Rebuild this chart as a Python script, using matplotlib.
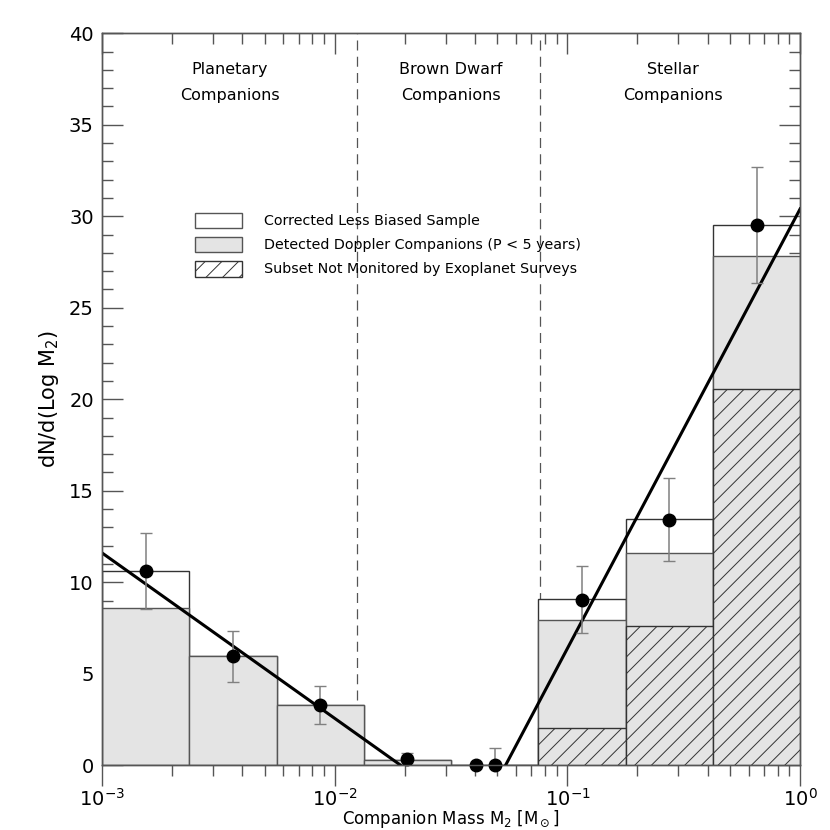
import numpy as np
import matplotlib
matplotlib.use('Agg')
import matplotlib.pyplot as plt
from matplotlib.patches import Patch

plt.rcParams['font.family'] = ['DejaVu Sans']
plt.rcParams['hatch.linewidth'] = 0.7
plt.rcParams['hatch.color'] = '#444444'

# bin edges (log10 M2), 0.375 dex wide
log_edges = [-3.0, -2.625, -2.25, -1.875, -1.5, -1.125, -0.75, -0.375, 0.0]

# histogram heights
corrected = [10.6, 5.95, 3.3, 0.3, 0.0, 9.1, 13.43, 29.5]
detected = [8.6, 5.95, 3.3, 0.3, 0.0, 7.95, 11.62, 27.8]
not_monitored = [0.0, 0.0, 0.0, 0.0, 0.0, 2.02, 7.62, 20.55]

# points with error bars
pt_mass = [1.54e-3, 3.65e-3, 8.66e-3, 0.0205, 0.0406, 0.0487, 0.1155, 0.274, 0.65]
pt_val = [10.6, 5.95, 3.3, 0.33, 0.0, 0.0, 9.05, 13.4, 29.5]
err_lo = [2.05, 1.4, 1.05, 0.3, 0.0, 0.0, 1.8, 2.25, 3.15]
err_hi = [2.1, 1.4, 1.05, 0.32, 0.0, 0.95, 1.85, 2.3, 3.2]

# fitted power laws (endpoints)
fit1_mass = [1e-3, 0.0192]
fit1_val = [11.6, 0.0]
fit2_mass = [0.0542, 1.0]
fit2_val = [0.0, 30.4]

# boundaries between regimes
bounds = [0.0124, 0.0764]

edges = 10 ** np.array(log_edges)
left = edges[:-1]
width = edges[1:] - edges[:-1]

fig = plt.figure(figsize=(8.3, 8.3), dpi=100)
ax = fig.add_axes([0.123, 0.078, 0.841, 0.882])

for b in bounds:
    ax.axvline(b, color='#555555', lw=0.9, ls=(0, (8, 5)), zorder=0)

ax.bar(left, corrected, width=width, align='edge', facecolor='white',
       edgecolor='#333333', lw=1.0, zorder=1)
ax.bar(left, detected, width=width, align='edge', facecolor='#e4e4e4',
       edgecolor='#555555', lw=1.0, zorder=2)
ax.bar(left[5:], not_monitored[5:], width=width[5:], align='edge', facecolor='#e4e4e4',
       edgecolor='#333333', lw=1.0, hatch='//', zorder=3)

ax.plot(fit1_mass, fit1_val, color='black', lw=2.2, zorder=5)
ax.plot(fit2_mass, fit2_val, color='black', lw=2.2, zorder=5)

ax.errorbar(pt_mass, pt_val, yerr=[err_lo, err_hi], fmt='none', ecolor='#808080',
            elinewidth=1.1, capsize=4, capthick=1.0, zorder=6)
ax.plot(pt_mass, pt_val, 'o', color='black', ms=9, zorder=7, clip_on=False)

ax.set_xscale('log')
ax.set_xlim(1e-3, 1.0)
ax.set_ylim(0, 40)
ax.set_yticks(np.arange(0, 41, 5))
ax.set_yticks(np.arange(0, 41, 1), minor=True)

# bottom x ticks point outward, all others inward
ax.tick_params(which='both', color='#555555', labelsize=14, width=1.0)
ax.tick_params(axis='x', which='both', direction='out', pad=1)
ax.tick_params(axis='y', which='both', direction='in', right=True, pad=6)
ax.tick_params(which='major', length=15)
ax.tick_params(which='minor', length=8)

top = ax.twiny()
top.set_xscale('log')
top.set_xlim(ax.get_xlim())
top.tick_params(which='both', direction='in', color='#555555', width=1.0, labeltop=False)
top.tick_params(which='major', length=15)
top.tick_params(which='minor', length=8)

for s in list(ax.spines.values()) + list(top.spines.values()):
    s.set_color('#555555')
    s.set_linewidth(1.0)

ax.set_ylabel('dN/d(Log M$_2$)', fontsize=15, labelpad=6)
ax.set_xlabel('Companion Mass M$_2$ [M$_\\odot$]', fontsize=12)
ax.xaxis.set_label_coords(0.5, -0.0585)

region_x = [10 ** -2.45, 10 ** -1.5, 10 ** -0.545]
region_txt = ['Planetary\nCompanions', 'Brown Dwarf\nCompanions', 'Stellar\nCompanions']
for xx, tt in zip(region_x, region_txt):
    ax.text(xx, 37.3, tt, ha='center', va='center', fontsize=11.5, linespacing=1.9)

handles = [Patch(facecolor='white', edgecolor='#555555', lw=1.0),
           Patch(facecolor='#e4e4e4', edgecolor='#555555', lw=1.0),
           Patch(facecolor='white', edgecolor='#333333', lw=1.0, hatch='//')]
labels = ['Corrected Less Biased Sample',
          'Detected Doppler Companions (P < 5 years)',
          'Subset Not Monitored by Exoplanet Surveys']
ax.legend(handles, labels, loc='upper left', bbox_to_anchor=(0.133, 0.755), frameon=False,
          fontsize=10.3, handlelength=3.3, handleheight=1.3, handletextpad=1.5,
          labelspacing=0.6, borderaxespad=0, borderpad=0)

fig.savefig('out.png', dpi=100)
